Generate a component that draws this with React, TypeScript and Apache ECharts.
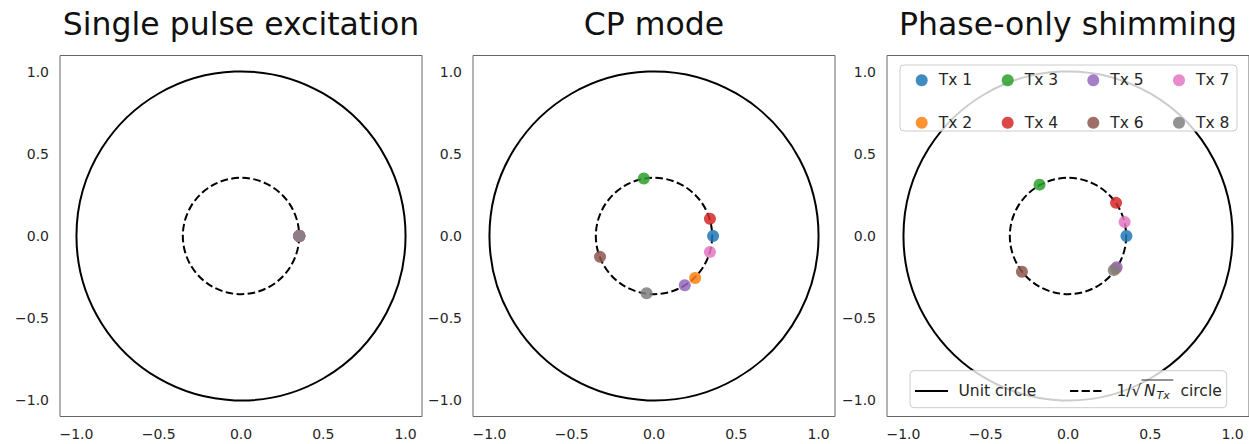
import React, { useEffect, useRef } from "react";
import * as echarts from "echarts";

const FONT = "DejaVu Sans";
const N_TX = 8;

const panelTitles = ["Single pulse excitation", "CP mode", "Phase-only shimming"];
const tickValues = [-1, -0.5, 0, 0.5, 1];

const txNames = ["Tx 1", "Tx 2", "Tx 3", "Tx 4", "Tx 5", "Tx 6", "Tx 7", "Tx 8"];
const txColors = ["#1f77b4", "#ff7f0e", "#2ca02c", "#d62728", "#9467bd", "#8c564b", "#e377c2", "#7f7f7f"];

// Single pulse excitation: all channels identical
const singleX = [0.354, 0.354, 0.354, 0.354, 0.354, 0.354, 0.354, 0.354];
const singleY = [0, 0, 0, 0, 0, 0, 0, 0];

// CP mode
const cpX = [0.359, 0.25, -0.062, 0.34, 0.187, -0.328, 0.34, -0.045];
const cpY = [0.0, -0.256, 0.35, 0.105, -0.3, -0.127, -0.097, -0.349];

// Phase-only shimming
const shimX = [0.355, 0.29, -0.173, 0.292, 0.296, -0.28, 0.344, 0.278];
const shimY = [0.0, -0.2, 0.313, 0.202, -0.19, -0.218, 0.085, -0.208];

// legend columns (matplotlib ncol=4, column-major)
const legendColumns = [
  ["Tx 1", "Tx 2"],
  ["Tx 3", "Tx 4"],
  ["Tx 5", "Tx 6"],
  ["Tx 7", "Tx 8"],
];
const legendColumnCenters = [921.7, 1007.7, 1093.3, 1179];

const panelX = [singleX, cpX, shimX];
const panelY = [singleY, cpY, shimY];
const gridLefts = [60, 473, 887];
const GRID_TOP = 55.5;
const GRID_W = 362;
const GRID_H = 361;

const fmt = (v: number) => (v < 0 ? "\u2212" : "") + Math.abs(v).toFixed(1);

export default function App() {
  const ref = useRef<HTMLDivElement>(null);
  useEffect(() => {
    if (!ref.current) return;
    const chart = echarts.init(ref.current, undefined, { renderer: "svg" });

    const circleRender = (dashed: boolean) => (params: any, api: any) => {
      const c = api.coord([api.value(0), api.value(1)]);
      const s = api.size([api.value(2), api.value(2)]);
      return {
        type: "circle",
        shape: { cx: c[0], cy: c[1], r: s[0] },
        style: {
          fill: "none",
          stroke: "#000",
          lineWidth: 2,
          lineDash: dashed ? [7.6, 3.4] : null,
        },
      };
    };

    const series: any[] = [];
    for (let p = 0; p < 3; p++) {
      series.push({
        type: "custom",
        name: "Unit circle",
        coordinateSystem: "cartesian2d",
        xAxisIndex: p,
        yAxisIndex: p,
        data: [[0, 0, 1]],
        renderItem: circleRender(false),
        silent: true,
      });
      series.push({
        type: "custom",
        name: "1/sqrt(N_Tx) circle",
        coordinateSystem: "cartesian2d",
        xAxisIndex: p,
        yAxisIndex: p,
        data: [[0, 0, 1 / Math.sqrt(N_TX)]],
        renderItem: circleRender(true),
        silent: true,
      });
      for (let i = 0; i < txNames.length; i++) {
        series.push({
          type: "scatter",
          name: txNames[i],
          xAxisIndex: p,
          yAxisIndex: p,
          data: [[panelX[p][i], panelY[p][i]]],
          symbol: "circle",
          symbolSize: 12,
          itemStyle: { color: txColors[i], opacity: 0.85 },
          z: 3,
        });
      }
    }

    const axisLabel = (margin: number) => ({
      customValues: tickValues,
      formatter: fmt,
      margin,
      fontSize: 14,
      color: "#262626",
      fontFamily: FONT,
    });

    const graphic: any[] = [];
    panelTitles.forEach((t, i) => {
      graphic.push({
        type: "text",
        x: gridLefts[i] + GRID_W / 2,
        y: 24,
        style: {
          text: t,
          fontSize: 31.5,
          fontFamily: FONT,
          fill: "#111",
          textAlign: "center",
          textVerticalAlign: "middle",
        },
      });
    });
    // top legend frame
    graphic.push({
      type: "rect",
      shape: { x: 900, y: 65, width: 337, height: 66, r: 4 },
      style: { fill: "rgba(255,255,255,0.8)", stroke: "#cccccc", lineWidth: 1 },
      z: 3,
    });
    // bottom legend frame and contents
    graphic.push({
      type: "rect",
      shape: { x: 910, y: 370.7, width: 316.7, height: 37, r: 4 },
      style: { fill: "rgba(255,255,255,0.8)", stroke: "#cccccc", lineWidth: 1 },
      z: 3,
    });
    graphic.push({
      type: "line",
      shape: { x1: 915, y1: 391, x2: 948, y2: 391 },
      style: { stroke: "#000", lineWidth: 2 },
      z: 5,
    });
    graphic.push({
      type: "text",
      x: 958.5,
      y: 391,
      style: { text: "Unit circle", fontSize: 15.5, fontFamily: FONT, fill: "#262626", textVerticalAlign: "middle" },
      z: 5,
    });
    graphic.push({
      type: "line",
      shape: { x1: 1070, y1: 391, x2: 1101.7, y2: 391 },
      style: { stroke: "#000", lineWidth: 2, lineDash: [8.3, 3.3] },
      z: 5,
    });
    graphic.push({
      type: "text",
      x: 1116.5,
      y: 391,
      style: { text: "1/\u221a", fontSize: 15.5, fontFamily: FONT, fill: "#262626", textVerticalAlign: "middle" },
      z: 5,
    });
    graphic.push({
      type: "line",
      shape: { x1: 1141.5, y1: 380, x2: 1173.3, y2: 380 },
      style: { stroke: "#262626", lineWidth: 1 },
      z: 5,
    });
    graphic.push({
      type: "text",
      x: 1144,
      y: 391,
      style: { text: "N", fontSize: 15.5, fontStyle: "italic", fontFamily: FONT, fill: "#262626", textVerticalAlign: "middle" },
      z: 5,
    });
    graphic.push({
      type: "text",
      x: 1156.5,
      y: 395.5,
      style: { text: "Tx", fontSize: 11, fontStyle: "italic", fontFamily: FONT, fill: "#262626", textVerticalAlign: "middle" },
      z: 5,
    });
    graphic.push({
      type: "text",
      x: 1180.5,
      y: 391,
      style: { text: "circle", fontSize: 15.5, fontFamily: FONT, fill: "#262626", textVerticalAlign: "middle" },
      z: 5,
    });

    const legend = legendColumns.map((col, i) => ({
      data: col,
      orient: "vertical",
      left: legendColumnCenters[i] - 6,
      top: 72.3,
      itemWidth: 12,
      itemHeight: 12,
      itemGap: 26.4,
      icon: "circle",
      padding: 0,
      selectedMode: false,
      textStyle: { fontSize: 15.5, color: "#262626", fontFamily: FONT, padding: [0, 0, 0, 6] },
      z: 10,
    }));

    const option: any = {
      animation: false,
      backgroundColor: "#ffffff",
      textStyle: { fontFamily: FONT },
      grid: gridLefts.map((l) => ({
        left: l,
        top: GRID_TOP,
        width: GRID_W,
        height: GRID_H,
        show: true,
        borderColor: "#666",
        borderWidth: 1,
        backgroundColor: "transparent",
        containLabel: false,
        outerBoundsMode: "none",
      })),
      xAxis: gridLefts.map((_, i) => ({
        type: "value",
        gridIndex: i,
        min: -1.1,
        max: 1.1,
        axisLine: { show: false },
        axisTick: { show: false },
        splitLine: { show: false },
        axisLabel: axisLabel(10),
      })),
      yAxis: gridLefts.map((_, i) => ({
        type: "value",
        gridIndex: i,
        min: -1.1,
        max: 1.1,
        axisLine: { show: false },
        axisTick: { show: false },
        splitLine: { show: false },
        axisLabel: axisLabel(11),
      })),
      legend,
      graphic,
      series,
    };
    chart.setOption(option);
    return () => chart.dispose();
  }, []);

  return (
    <div
      ref={ref}
      style={{ position: "fixed", left: 0, top: 0, width: 1249, height: 444, background: "#fff" }}
    />
  );
}
